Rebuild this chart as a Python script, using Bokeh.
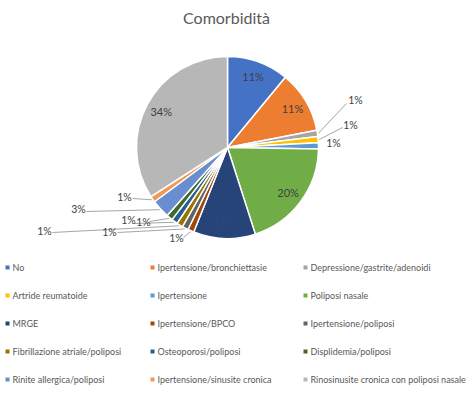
import math
from bokeh.plotting import figure
from bokeh.models import Range1d
from bokeh.core.properties import value
from bokeh.embed import file_html
from bokeh.resources import INLINE

title = "Comorbidità"
categories = [
    "No", "Ipertensione/bronchiettasie", "Depressione/gastrite/adenoidi",
    "Artride reumatoide", "Ipertensione", "Poliposi nasale",
    "MRGE", "Ipertensione/BPCO", "Ipertensione/poliposi",
    "Fibrillazione atriale/poliposi", "Osteoporosi/poliposi", "Displidemia/poliposi",
    "Rinite allergica/poliposi", "Ipertensione/sinusite cronica",
    "Rinosinusite cronica con poliposi nasale",
]
counts = [10, 10, 1, 1, 1, 18, 10, 1, 1, 1, 1, 1, 3, 1, 31]
pct_labels = ["11%", "11%", "1%", "1%", "1%", "20%", "11%", "1%", "1%", "1%",
              "1%", "1%", "3%", "1%", "34%"]
colors = ["#4472C4", "#ED7D31", "#A5A5A5", "#FFC000", "#5B9BD5", "#70AD47",
          "#264478", "#9E480E", "#636363", "#997300", "#255E91", "#43682B",
          "#698ED0", "#F1975A", "#B7B7B7"]

W, H = 474, 396


def X(px):
    return px


def Y(py):
    return H - py


p = figure(width=W, height=H, x_range=Range1d(0, W), y_range=Range1d(0, H),
           output_backend="svg", toolbar_location=None, min_border=0,
           x_axis_location=None, y_axis_location=None)
p.grid.visible = False
p.outline_line_color = None

FONT = value("Lato")
TXT = "#595959"

# title
p.text(x=[X(226)], y=[Y(17)], text=[title], text_font=FONT, text_font_size="16px",
       text_color=TXT, text_align="center", text_baseline="middle")

# pie
cx, cy, R = 227, 147, 91
total = sum(counts)
starts, ends, mids = [], [], []
c = 0
for v in counts:
    a0 = math.pi / 2 - 2 * math.pi * c / total
    a1 = math.pi / 2 - 2 * math.pi * (c + v) / total
    starts.append(a0)
    ends.append(a1)
    mids.append((a0 + a1) / 2)
    c += v

p.wedge(x=X(cx), y=Y(cy), radius=R, start_angle=starts, end_angle=ends,
        direction="clock", fill_color=colors, line_color="white", line_width=1.5)

# inside labels
inside = [0, 1, 5, 6, 14]
ix = [X(cx) + 0.83 * R * math.cos(mids[i]) for i in inside]
iy = [Y(cy) + 0.83 * R * math.sin(mids[i]) for i in inside]
icol = ["#404040" if i != 6 else "#2a4a7a" for i in inside]
p.text(x=ix, y=iy, text=[pct_labels[i] for i in inside], text_font=FONT,
       text_font_size="11px", text_color=icol, text_align="center",
       text_baseline="middle")

# outside labels: slice index -> (label pos, leader anchor or None)
outside = {
    2: ((355, 99), (346, 103)),
    3: ((350, 124), (342, 127)),
    4: ((333, 142), None),
    7: ((176, 237), (183, 237)),
    8: ((109, 231), (117, 232)),
    9: ((44, 230), (52, 232)),
    10: ((128, 219), (134, 223)),
    11: ((143, 221), (149, 221)),
    12: ((78, 208), (86, 211)),
    13: ((124, 196), (132, 198)),
}
ox, oy, ot = [], [], []
sx0, sy0, sx1, sy1 = [], [], [], []
for i, (lab, anc) in outside.items():
    ox.append(X(lab[0]))
    oy.append(Y(lab[1]))
    ot.append(pct_labels[i])
    if anc is not None:
        sx0.append(X(anc[0]))
        sy0.append(Y(anc[1]))
        sx1.append(X(cx) + (R + 1) * math.cos(mids[i]))
        sy1.append(Y(cy) + (R + 1) * math.sin(mids[i]))
p.segment(x0=sx0, y0=sy0, x1=sx1, y1=sy1, line_color="#A6A6A6", line_width=1)
p.text(x=ox, y=oy, text=ot, text_font=FONT, text_font_size="10.5px",
       text_color="#404040", text_align="center", text_baseline="middle")

# legend
col_x = [7, 152, 305]
row_y0, row_dy = 267, 28
mx, my, tx, ty = [], [], [], []
for k, name in enumerate(categories):
    r, cidx = divmod(k, 3)
    mx.append(X(col_x[cidx]))
    my.append(Y(row_y0 + r * row_dy))
    tx.append(X(col_x[cidx] + 5))
    ty.append(Y(row_y0 + r * row_dy))
p.scatter(x=mx, y=my, marker="square", size=4, fill_color=colors, line_color=None)
p.text(x=tx, y=ty, text=categories, text_font=FONT, text_font_size="9px",
       text_color=TXT, text_align="left", text_baseline="middle")

open("out.html", "w").write(file_html(p, INLINE))
